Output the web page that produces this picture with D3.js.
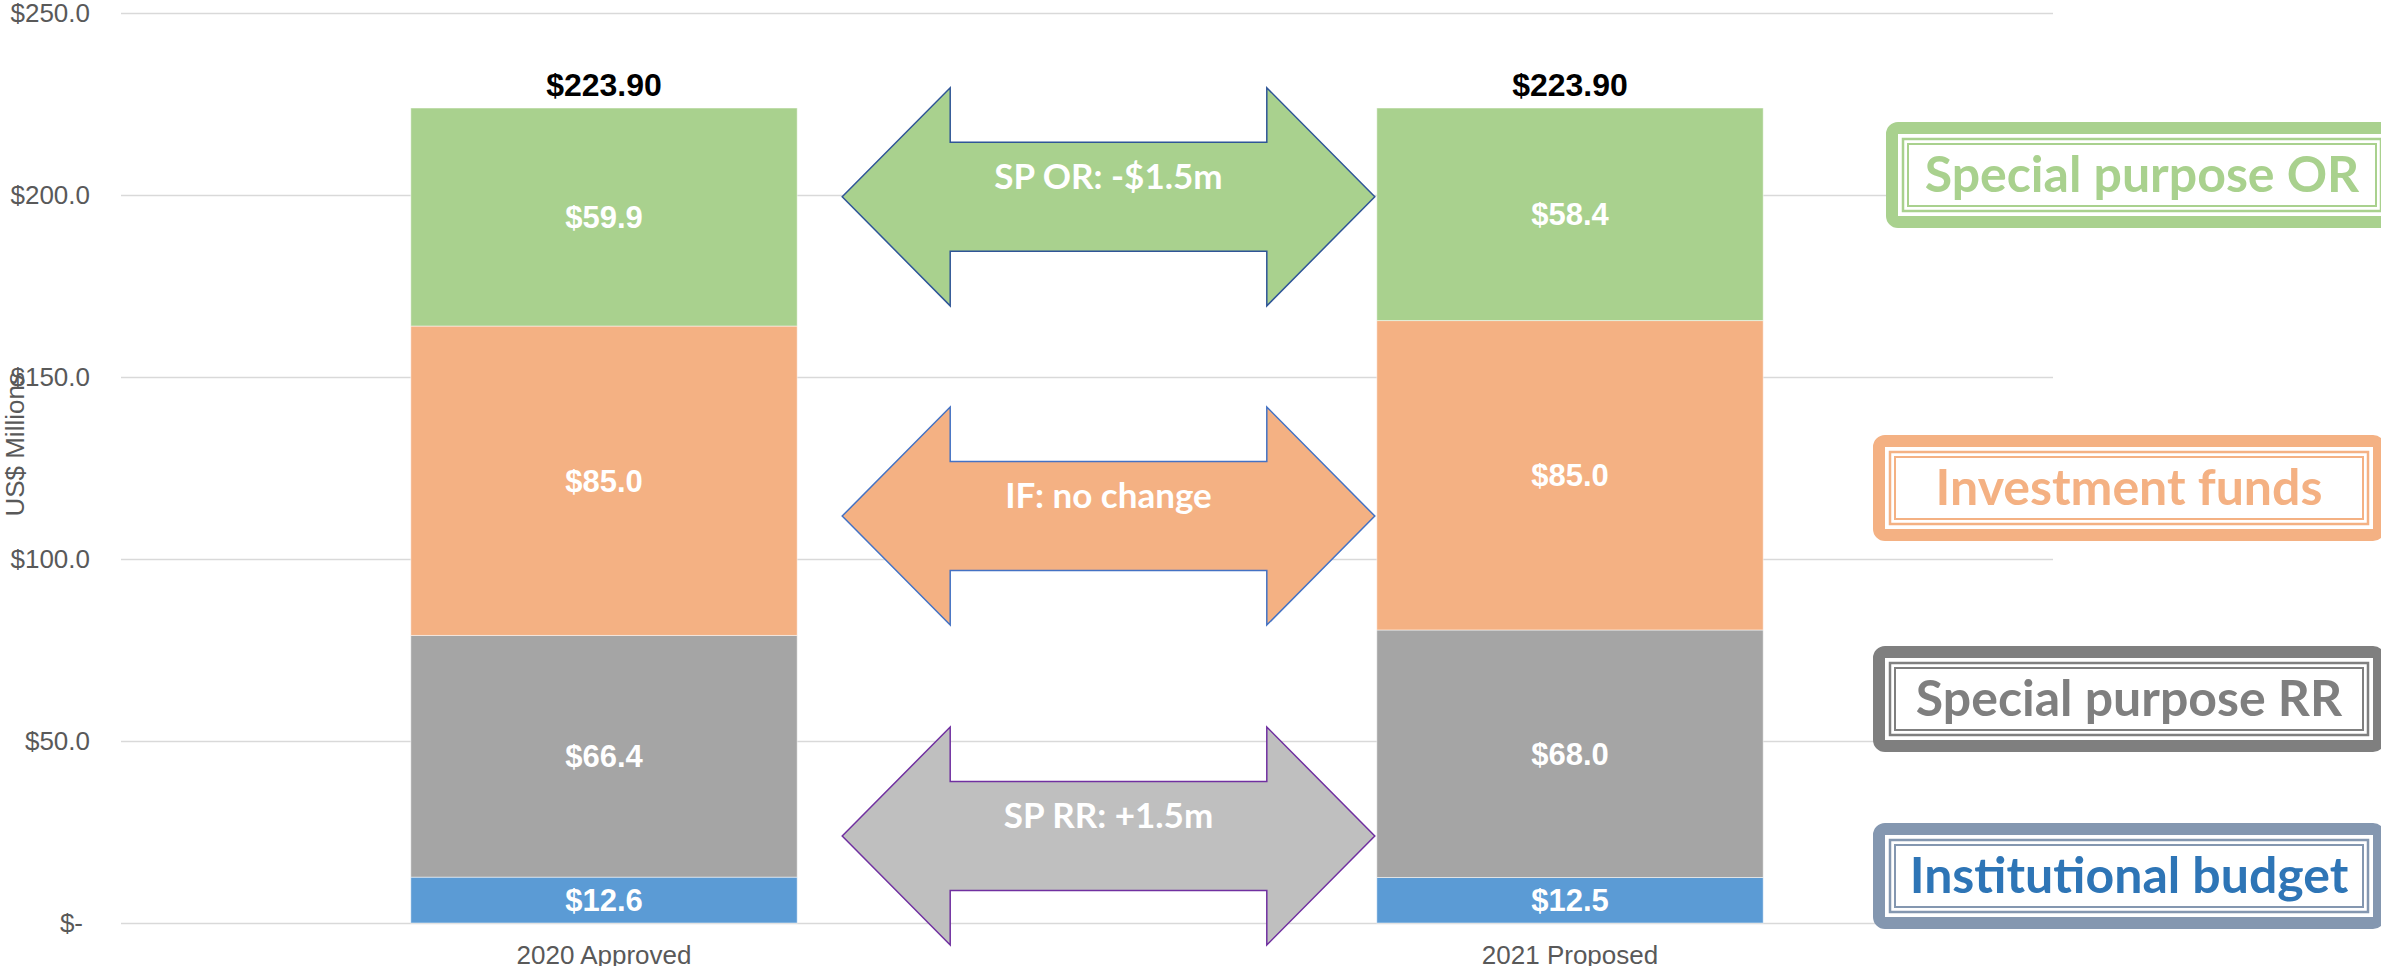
<!DOCTYPE html>
<html lang="en">
  <head>
    <meta charset="utf-8">
    <title>Budget 2020 vs 2021</title>
    <script src="https://d3js.org/d3.v7.js"></script>
    <style>
      body { margin: 0; background: #fff; }
      svg { display: block; }
    </style>
  </head>

  <body>
    <script>
      // Data
      const categories = ["2020 Approved", "2021 Proposed"];
      const seriesKeys = ["Institutional budget", "Special purpose RR", "Investment funds", "Special purpose OR"];
      const institutional = [12.6, 12.5];
      const specialRR = [66.4, 68.0];
      const investment = [85.0, 85.0];
      const specialOR = [59.9, 58.4];
      const yTicks = [0, 50, 100, 150, 200, 250];

      // Change arrows between the two bars (level in US$ millions)
      const arrowLabels = ["SP OR: -$1.5m", "IF: no change", "SP RR: +1.5m"];
      const arrowLevels = [199.5, 111.8, 23.9];

      // Styles
      const barColors = ["#5B9BD5", "#A5A5A5", "#F4B183", "#A9D18E"];
      const arrowFills = ["#A9D18E", "#F4B183", "#BFBFBF"];
      const arrowStrokes = ["#2F5597", "#4472C4", "#7030A0"];
      const legendText = ["#2E75B6", "#7F7F7F", "#F4B183", "#A9D18E"];
      const legendBorder = ["#8497B0", "#7F7F7F", "#F4B183", "#A9D18E"];
      const legendLeft = [1873, 1873, 1873, 1886];
      const legendTop = [823, 646, 435, 122];

      const w = 2381;
      const h = 966;
      const margin = { top: 13, right: 328, bottom: 43, left: 121 };
      const innerWidth = w - margin.left - margin.right;
      const innerHeight = h - margin.top - margin.bottom;

      const table = categories.map((c, i) => ({
        category: c,
        "Institutional budget": institutional[i],
        "Special purpose RR": specialRR[i],
        "Investment funds": investment[i],
        "Special purpose OR": specialOR[i]
      }));

      const stacked = d3.stack().keys(seriesKeys)(table);

      const svg = d3.select("body")
        .append("svg")
        .attr("width", w)
        .attr("height", h);

      const xScale = d3.scaleBand()
        .domain(categories)
        .range([0, innerWidth])
        .paddingInner(0.6)
        .paddingOuter(0.3);

      const yScale = d3.scaleLinear()
        .domain([0, 250])
        .range([innerHeight, 0]);

      const plot = svg.append("g")
        .attr("transform", `translate(${margin.left}, ${margin.top})`);

      // y axis with gridlines
      const yAxis = d3.axisLeft(yScale)
        .tickValues(yTicks)
        .tickSize(-innerWidth)
        .tickPadding(31)
        .tickFormat(d => d === 0 ? "$-" : "$" + d.toFixed(1));

      const yG = plot.append("g")
        .call(yAxis);
      yG.select(".domain").remove();
      yG.selectAll(".tick line")
        .attr("stroke", "#D9D9D9")
        .attr("stroke-width", 1.5);
      yG.selectAll(".tick text")
        .attr("fill", "#595959")
        .style("font-family", "Arial, 'Liberation Sans', sans-serif")
        .style("font-size", "26px")
        .attr("dx", d => d === 0 ? -7 : 0);

      // x axis labels
      const xG = plot.append("g")
        .attr("transform", `translate(0, ${innerHeight})`)
        .call(d3.axisBottom(xScale).tickSize(0).tickPadding(23));
      xG.select(".domain").remove();
      xG.selectAll(".tick text")
        .attr("fill", "#595959")
        .style("font-family", "Arial, 'Liberation Sans', sans-serif")
        .style("font-size", "26px");

      // y axis title
      svg.append("text")
        .attr("transform", `translate(24, ${margin.top + yScale(131.5)}) rotate(-90)`)
        .attr("text-anchor", "middle")
        .attr("fill", "#595959")
        .style("font-family", "Arial, 'Liberation Sans', sans-serif")
        .style("font-size", "26px")
        .text("US$ Millions");

      // stacked bars
      const layers = plot.selectAll("g.layer")
        .data(stacked)
        .enter().append("g")
        .attr("class", "layer")
        .attr("fill", (d, i) => barColors[i]);

      layers.selectAll("rect")
        .data(d => d)
        .enter().append("rect")
        .attr("x", d => xScale(d.data.category))
        .attr("y", d => yScale(d[1]))
        .attr("width", xScale.bandwidth())
        .attr("height", d => yScale(d[0]) - yScale(d[1]))
        .attr("stroke", "#fff")
        .attr("stroke-opacity", 0.5)
        .attr("stroke-width", 1);

      layers.selectAll("text")
        .data(d => d)
        .enter().append("text")
        .attr("x", d => xScale(d.data.category) + xScale.bandwidth() / 2)
        .attr("y", d => yScale((d[0] + d[1]) / 2))
        .attr("dy", "0.36em")
        .attr("text-anchor", "middle")
        .attr("fill", "#fff")
        .style("font-family", "Arial, 'Liberation Sans', sans-serif")
        .style("font-weight", "bold")
        .style("font-size", "31px")
        .text(d => "$" + (d[1] - d[0]).toFixed(1));

      // totals above bars
      const topLayer = stacked[stacked.length - 1];
      plot.selectAll("text.total")
        .data(topLayer)
        .enter().append("text")
        .attr("class", "total")
        .attr("x", d => xScale(d.data.category) + xScale.bandwidth() / 2)
        .attr("y", d => yScale(d[1]) - 12)
        .attr("text-anchor", "middle")
        .attr("fill", "#000")
        .style("font-family", "Arial, 'Liberation Sans', sans-serif")
        .style("font-weight", "bold")
        .style("font-size", "32px")
        .text(d => "$" + d[1].toFixed(2));

      // double-headed arrows
      const arrowL = xScale(categories[0]) + xScale.bandwidth() + 45;
      const arrowR = xScale(categories[1]) - 2;
      const head = 108;
      const halfH = 109;
      const halfShaft = 54.5;

      function arrowPath(level) {
        const cy = yScale(level);
        const pts = [
          [arrowL, cy],
          [arrowL + head, cy - halfH],
          [arrowL + head, cy - halfShaft],
          [arrowR - head, cy - halfShaft],
          [arrowR - head, cy - halfH],
          [arrowR, cy],
          [arrowR - head, cy + halfH],
          [arrowR - head, cy + halfShaft],
          [arrowL + head, cy + halfShaft],
          [arrowL + head, cy + halfH]
        ];
        return d3.line()(pts) + "Z";
      }

      const arrows = plot.selectAll("g.arrow")
        .data(arrowLevels)
        .enter().append("g")
        .attr("class", "arrow");

      arrows.append("path")
        .attr("d", d => arrowPath(d))
        .attr("fill", (d, i) => arrowFills[i])
        .attr("stroke", (d, i) => arrowStrokes[i])
        .attr("stroke-width", 1.5);

      arrows.append("text")
        .attr("x", (arrowL + arrowR) / 2)
        .attr("y", d => yScale(d) - 8)
        .attr("text-anchor", "middle")
        .attr("fill", "#fff")
        .style("font-family", "Lato, 'Open Sans', sans-serif")
        .style("font-weight", "bold")
        .style("font-size", "35px")
        .text((d, i) => arrowLabels[i]);

      // legend boxes on the right
      const boxW = 512;
      const boxH = 106;
      const legend = svg.selectAll("g.legend")
        .data(seriesKeys)
        .enter().append("g")
        .attr("class", "legend")
        .attr("transform", (d, i) => `translate(${legendLeft[i]}, ${legendTop[i]})`);

      legend.append("rect")
        .attr("x", 6).attr("y", 6)
        .attr("width", boxW - 12).attr("height", boxH - 12)
        .attr("rx", 6)
        .attr("fill", "#fff")
        .attr("stroke", (d, i) => legendBorder[i])
        .attr("stroke-width", 12);

      legend.append("rect")
        .attr("x", 17).attr("y", 17)
        .attr("width", boxW - 34).attr("height", boxH - 34)
        .attr("fill", "none")
        .attr("stroke", (d, i) => legendBorder[i])
        .attr("stroke-width", 2.5);

      legend.append("rect")
        .attr("x", 22).attr("y", 22)
        .attr("width", boxW - 44).attr("height", boxH - 44)
        .attr("fill", "none")
        .attr("stroke", (d, i) => legendBorder[i])
        .attr("stroke-width", 2);

      legend.append("text")
        .attr("x", boxW / 2)
        .attr("y", 69.5)
        .attr("text-anchor", "middle")
        .attr("fill", (d, i) => legendText[i])
        .style("font-family", "Lato, 'Open Sans', sans-serif")
        .style("font-weight", "bold")
        .style("font-size", "50px")
        .text(d => d);
    </script>
  </body>
</html>
